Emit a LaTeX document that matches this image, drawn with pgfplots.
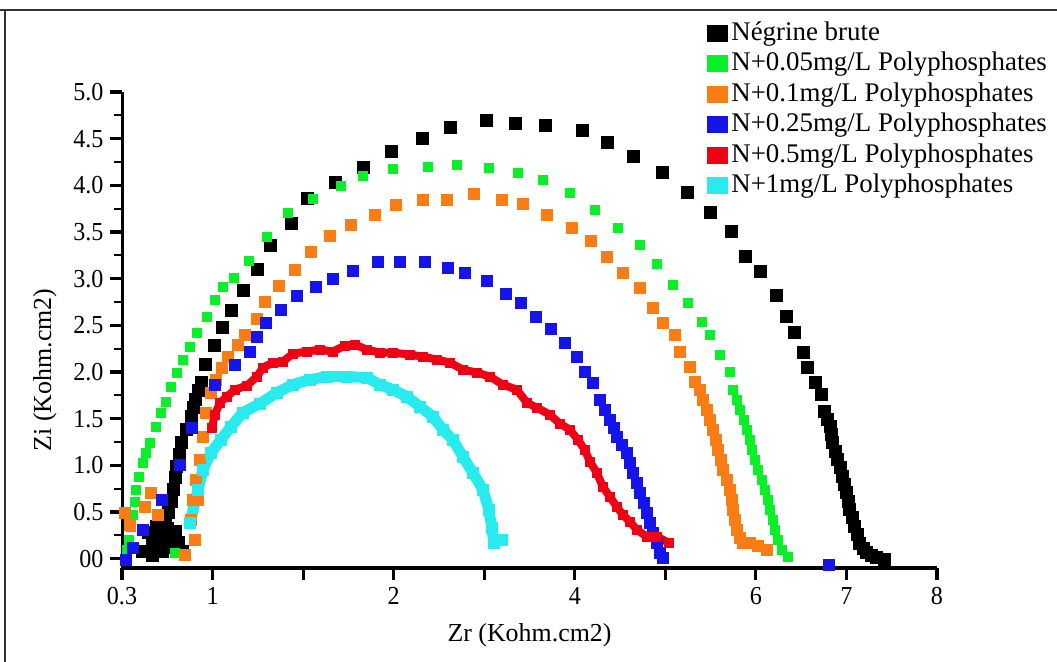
\documentclass[border=0pt]{standalone}
\usepackage{fontspec}
\setmainfont{Liberation Serif}
\newfontfamily\tickfont[FakeStretch=0.93]{Liberation Serif}
\usepackage{pgfplots}
\pgfplotsset{compat=1.18}
\definecolor{cgreen}{RGB}{10,240,40}
\definecolor{corange}{RGB}{250,125,20}
\definecolor{cblue}{RGB}{20,20,235}
\definecolor{cred}{RGB}{240,0,20}
\definecolor{ccyan}{RGB}{40,235,240}
\begin{document}
\begin{tikzpicture}
\useasboundingbox (0,0) rectangle (1057bp,662bp);
\draw[line width=2bp, black!80] (0,652bp) -- (1057bp,652bp);
\draw[line width=2bp, black!80] (5bp,0) -- (5bp,652bp);
\begin{axis}[
  at={(122bp,94bp)}, anchor=south west,
  scale only axis, width=815bp, height=476bp,
  xmin=0, xmax=9, ymin=-0.1, ymax=5,
  axis lines=left, axis line style={-, line width=3bp},
  clip=false,
  tick align=outside,
  xtick={0,1,2,3,4,5,6,7,8,9}, xticklabels={0.3,1,{},2,{},4,{},6,7,8},
  ytick={0,0.5,1,1.5,2,2.5,3,3.5,4,4.5,5},
  yticklabels={00,0.5,1.0,1.5,2.0,2.5,3.0,3.5,4.0,4.5,5.0},
  minor y tick num=1,
  major tick length=12bp, minor tick length=8bp,
  every tick/.style={line width=3.2bp, black},
  every minor tick/.append style={line width=2bp},
  tick label style={font=\tickfont\fontsize{26}{30}\selectfont},
  yticklabel style={xshift=-3bp},
  xticklabel style={yshift=-4bp},
  xlabel={Zr (Kohm.cm2)}, ylabel={Zi (Kohm.cm2)},
  xlabel style={at={(axis description cs:0.5,-0.141)}, anchor=center, font=\fontsize{26}{30}\selectfont},
  ylabel style={at={(axis description cs:-0.0945,0.416)}, anchor=center, font=\fontsize{26}{30}\selectfont},
  legend style={at={(axis description cs:0.718,1.149)}, anchor=north west, draw=none, fill=none,
    font=\fontsize{27}{30}\selectfont, row sep=6.5bp, inner sep=0pt,
    nodes={inner ysep=0pt, inner xsep=3bp, text height=19bp, text depth=5bp}},
  legend cell align=left,
  legend image code/.code={\fill[#1, draw=none] (0bp,-8.5bp) rectangle (21bp,8.5bp);},
]
% Negrine brute
\addplot[only marks, mark=square*, color=black, mark size=6bp] table {
x y
0.221 0.075
0.331 0.150
0.442 0.075
0.552 0.118
0.662 0.075
0.287 0.279
0.419 0.257
0.585 0.289
0.330 0.040
0.450 0.200
0.550 0.210
0.380 0.350
0.500 0.330
0.620 0.180
0.475 0.418
0.508 0.493
0.541 0.611
0.563 0.740
0.585 0.868
0.596 0.986
0.629 1.115
0.651 1.243
0.706 1.383
0.762 1.522
0.784 1.618
0.806 1.704
0.839 1.801
0.872 1.886
0.916 2.079
1.015 2.283
1.104 2.476
1.203 2.658
1.336 2.872
1.490 3.098
1.634 3.355
1.865 3.591
2.042 3.859
2.351 4.030
2.660 4.191
2.969 4.362
3.311 4.502
3.620 4.620
4.018 4.695
4.338 4.662
4.669 4.641
5.077 4.587
5.353 4.459
5.640 4.309
5.960 4.137
6.236 3.923
6.490 3.708
6.722 3.505
6.887 3.237
7.042 3.076
7.219 2.819
7.340 2.594
7.428 2.422
7.517 2.208
7.561 2.047
7.660 1.886
7.726 1.758
7.759 1.576
7.792 1.490
7.815 1.415
7.837 1.329
7.848 1.243
7.881 1.147
7.903 1.061
7.936 0.975
7.958 0.879
7.980 0.793
8.002 0.707
8.024 0.611
8.035 0.525
8.068 0.439
8.091 0.343
8.124 0.257
8.146 0.171
8.190 0.107
8.223 0.064
8.278 0.032
8.333 0.011
8.422 -0.010
};
\addlegendentry{Négrine brute}
% N+0.05
\addplot[only marks, mark=square*, color=cgreen, mark size=4.5bp] table {
x y
0.033 -0.010
0.055 0.096
0.077 0.204
0.099 0.343
0.121 0.472
0.143 0.611
0.155 0.740
0.188 0.879
0.232 1.029
0.265 1.136
0.309 1.243
0.375 1.415
0.430 1.565
0.486 1.683
0.541 1.844
0.607 1.994
0.673 2.133
0.751 2.272
0.828 2.422
0.938 2.594
1.026 2.776
1.115 2.915
1.236 3.012
1.402 3.194
1.600 3.451
1.832 3.708
2.108 3.859
2.417 3.998
2.660 4.105
2.991 4.180
3.377 4.202
3.698 4.223
4.051 4.191
4.371 4.137
4.647 4.062
4.945 3.923
5.221 3.741
5.475 3.548
5.717 3.366
5.905 3.162
6.082 2.937
6.247 2.744
6.402 2.540
6.490 2.401
6.600 2.186
6.711 2.004
6.744 1.811
6.788 1.704
6.821 1.597
6.865 1.490
6.898 1.383
6.932 1.275
6.954 1.168
6.987 1.061
7.020 0.954
7.064 0.847
7.097 0.740
7.130 0.632
7.152 0.525
7.185 0.418
7.208 0.311
7.241 0.204
7.285 0.096
7.351 0.021
0.585 0.064
};
\addlegendentry{N+0.05mg/L Polyphosphates}
% N+0.1
\addplot[only marks, mark=square*, color=corange, mark size=5.5bp] table {
x y
0.695 0.043
0.806 0.204
0.762 0.418
0.784 0.632
0.817 0.847
0.861 1.061
0.894 1.308
0.927 1.565
0.982 1.779
1.038 1.919
1.104 2.047
1.170 2.165
1.280 2.294
0.033 0.493
0.088 0.364
0.254 0.557
0.320 0.707
0.397 0.472
0.839 0.632
1.358 2.401
1.490 2.572
1.578 2.755
1.733 2.926
1.909 3.098
2.086 3.290
2.296 3.462
2.528 3.580
2.792 3.687
3.024 3.794
3.322 3.848
3.587 3.848
3.885 3.912
4.194 3.848
4.426 3.805
4.691 3.687
4.967 3.548
5.177 3.408
5.353 3.237
5.530 3.065
5.717 2.905
5.861 2.690
5.971 2.529
6.104 2.401
6.159 2.219
6.269 2.058
6.325 1.897
6.380 1.811
6.413 1.704
6.457 1.597
6.490 1.490
6.523 1.383
6.556 1.275
6.578 1.168
6.611 1.061
6.634 0.954
6.678 0.847
6.711 0.740
6.733 0.632
6.744 0.525
6.766 0.418
6.788 0.311
6.821 0.225
6.854 0.171
6.932 0.171
7.020 0.139
7.119 0.096
};
\addlegendentry{N+0.1mg/L Polyphosphates}
% N+0.25
\addplot[only marks, mark=square*, color=cblue, mark size=5.5bp] table {
x y
0.044 -0.010
0.121 0.118
0.232 0.311
0.442 0.632
0.640 1.007
0.773 1.404
1.026 1.865
1.247 2.079
1.413 2.219
1.490 2.379
1.589 2.529
1.755 2.669
1.932 2.819
2.141 2.915
2.329 3.001
2.550 3.087
2.826 3.183
3.068 3.183
3.344 3.183
3.598 3.119
3.786 3.065
4.029 2.980
4.238 2.840
4.404 2.744
4.570 2.594
4.735 2.465
4.890 2.315
5.022 2.165
5.110 2.004
5.199 1.886
5.276 1.704
5.331 1.597
5.386 1.490
5.430 1.404
5.464 1.308
5.519 1.222
5.574 1.136
5.607 1.029
5.640 0.922
5.684 0.815
5.717 0.707
5.762 0.600
5.795 0.493
5.828 0.386
5.861 0.279
5.905 0.171
5.938 0.064
5.971 0.011
7.800 -0.060
};
\addlegendentry{N+0.25mg/L Polyphosphates}
% N+0.5
\addplot[color=cred, line width=8bp, line join=round, mark=square*, mark size=4.5bp, mark options={line width=0.4pt}] table {
x y
0.993 1.404
1.026 1.543
1.082 1.672
1.159 1.736
1.247 1.811
1.380 1.854
1.490 1.951
1.556 2.047
1.667 2.101
1.777 2.111
1.887 2.197
2.042 2.219
2.185 2.240
2.329 2.219
2.461 2.283
2.572 2.294
2.704 2.240
2.848 2.208
2.991 2.208
3.179 2.186
3.322 2.165
3.477 2.133
3.620 2.101
3.764 2.026
3.918 1.994
4.062 1.951
4.205 1.865
4.360 1.811
4.470 1.672
4.581 1.618
4.724 1.543
4.834 1.447
4.945 1.383
5.033 1.275
5.110 1.168
5.166 1.040
5.243 0.922
5.309 0.772
5.386 0.665
5.464 0.557
5.530 0.472
5.607 0.397
5.684 0.311
5.795 0.236
5.905 0.236
6.038 0.171
};
\addlegendentry{N+0.5mg/L Polyphosphates}
% N+1
\addplot[color=ccyan, line width=11bp, line join=round, mark=square*, mark size=5.5bp, mark options={line width=0.4pt}] table {
x y
0.751 0.386
0.839 0.740
0.894 0.954
0.982 1.136
1.093 1.275
1.203 1.415
1.336 1.565
1.523 1.661
1.711 1.779
1.887 1.865
2.075 1.919
2.263 1.951
2.483 1.951
2.704 1.940
2.848 1.865
2.991 1.811
3.146 1.736
3.289 1.629
3.433 1.522
3.543 1.383
3.653 1.275
3.764 1.093
3.874 0.922
3.985 0.740
4.051 0.525
4.084 0.332
4.106 0.171
4.194 0.204
};
\addlegendentry{N+1mg/L Polyphosphates}
\end{axis}
\end{tikzpicture}
\end{document}
